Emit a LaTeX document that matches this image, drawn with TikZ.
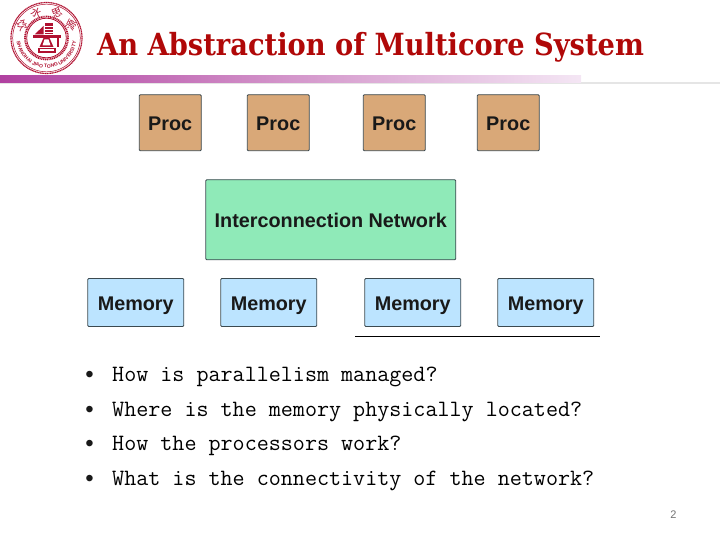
\documentclass[tikz,border=0pt]{standalone}
\usepackage{fontspec}
\setmainfont{Liberation Sans}
\newfontfamily\titlefont{DejaVu Serif}
\newfontfamily\cjkf{Noto Sans CJK SC}
\setmonofont{Latin Modern Mono}
\usetikzlibrary{shadings,decorations.text}
\definecolor{logored}{HTML}{B01030}
\definecolor{titlered}{HTML}{B00808}
\definecolor{procfill}{HTML}{D9A878}
\definecolor{netfill}{HTML}{8FEAB8}
\definecolor{memfill}{HTML}{BCE4FF}
\definecolor{edgegrey}{HTML}{3C4A50}
\definecolor{barpurple}{HTML}{B040A0}
\definecolor{barlight}{HTML}{F4E6F4}
\tikzset{
  box/.style={draw=edgegrey,line width=0.9pt,rounded corners=1pt,inner sep=0pt,anchor=north west,font=\fontsize{19.8}{22}\selectfont\bfseries,text=black!90,text height=16pt,text depth=0pt},
  procbox/.style={box,fill=procfill,minimum width=62pt,minimum height=56pt},
  membox/.style={box,fill=memfill,minimum width=96pt,minimum height=48pt},
  netbox/.style={box,fill=netfill,minimum width=250pt,minimum height=80pt},
  qtext/.style={anchor=base west,inner sep=0pt,font=\fontsize{23.4}{24}\selectfont\ttfamily,text=black},
  bullettext/.style={anchor=center,inner sep=0pt,font=\fontsize{24}{24}\selectfont,text=black!90},
  ringcjk/.style={inner sep=0pt,text=logored,font=\fontsize{10.5}{11}\selectfont\cjkf},
  logoline/.style={draw=logored},
}
\begin{document}
\begin{tikzpicture}[x=1pt,y=-1pt]
\useasboundingbox (0,0) rectangle (720,540);
% header rule
\fill[black!10] (0,82) rectangle (720,84);
\shade[left color=barpurple,right color=barlight,middle color=barpurple!55!white] (0,76) rectangle (581,82.5);
% logo
\begin{scope}[shift={(46.5,38)}]
  \draw[logoline,line width=1.2pt,dash pattern=on 1.2pt off 0.5pt] (0,0) circle (35.5);
  \draw[logoline,line width=0.5pt] (0,0) circle (33.8);
  \draw[logoline,line width=1.8pt,dash pattern=on 1.1pt off 0.7pt] (0,0) circle (21.5);
  \draw[logoline,line width=0.8pt] (0,0) circle (19.8);
  \foreach \ch/\ang in {饮/153,水/112,思/68,源/27}{
    \node[ringcjk,rotate=90-\ang] at ({27.5*cos(\ang)},{-27.5*sin(\ang)}) {\ch};
  }
  \begin{scope}[x=1pt,y=1pt]
  \path[decorate,decoration={text along path,text align=center,
     text={|\fontsize{5}{5}\selectfont\bfseries\color{logored}|SHANGHAI JIAO TONG UNIVERSITY}}]
     (190:30pt) arc[start angle=190,end angle=350,radius=30pt];
  \end{scope}
  % emblem
  \fill[logored] (-12,-3.5) -- (-3,-12) -- (-3,-3.5) -- cycle;
  \fill[logored] (-2,-15) rectangle (6,-3.5);
  \foreach \yy in {-12,-9,-6}{\draw[white,line width=0.6pt] (-2,\yy) -- (6,\yy);}
  \fill[logored] (-14,-2.5) rectangle (14,0);
  \fill[logored] (-3,0) -- (3,0) -- (7,9) -- (-7,9) -- cycle;
  \fill[white] (-2,1.5) -- (2,1.5) -- (4,7.5) -- (-4,7.5) -- cycle;
  \fill[logored] (-9,10) rectangle (9,15);
  \fill[white] (-7,11.5) rectangle (7,13.5);
  \fill[logored] (10,-1) rectangle (12,9);
\end{scope}
% title
\node[anchor=base west,inner sep=0pt,text=titlered,font=\fontsize{30.5}{32}\selectfont\titlefont\bfseries] (title) at (97,55.5) {\scalebox{0.895}[1]{An Abstraction of Multicore System}};
% boxes
\node[procbox] (p1) at (138.8,94.3) {Proc};
\node[procbox] (p2) at (246.8,94.3) {Proc};
\node[procbox] (p3) at (362.8,94.3) {Proc};
\node[procbox] (p4) at (476.8,94.3) {Proc};
\node[netbox] (net) at (205.3,179.3) {Interconnection Network};
\node[membox] (m1) at (87.3,278) {Memory};
\node[membox] (m2) at (220.3,278) {Memory};
\node[membox] (m3) at (364.3,278) {Memory};
\node[membox] (m4) at (497.3,278) {Memory};
\coordinate (ruleL) at (355,336.5);
\coordinate (ruleR) at (600,336.5);
\draw[black,line width=0.8pt] (ruleL) -- (ruleR);
% bullets
\foreach \yy/\tx/\nm in {381.7/How is parallelism managed?/q1,416.2/Where is the memory physically located?/q2,450.7/How the processors work?/q3,485.2/What is the connectivity of the network?/q4}{
  \node[bullettext] at (89.5,\yy-4.5) {•};
  \node[qtext] (\nm) at (112,\yy) {\tx};
}
\node[anchor=base,inner sep=0pt,text=black!55,font=\fontsize{11}{12}\selectfont] (pg) at (673.5,518) {2};
\end{tikzpicture}
\end{document}
